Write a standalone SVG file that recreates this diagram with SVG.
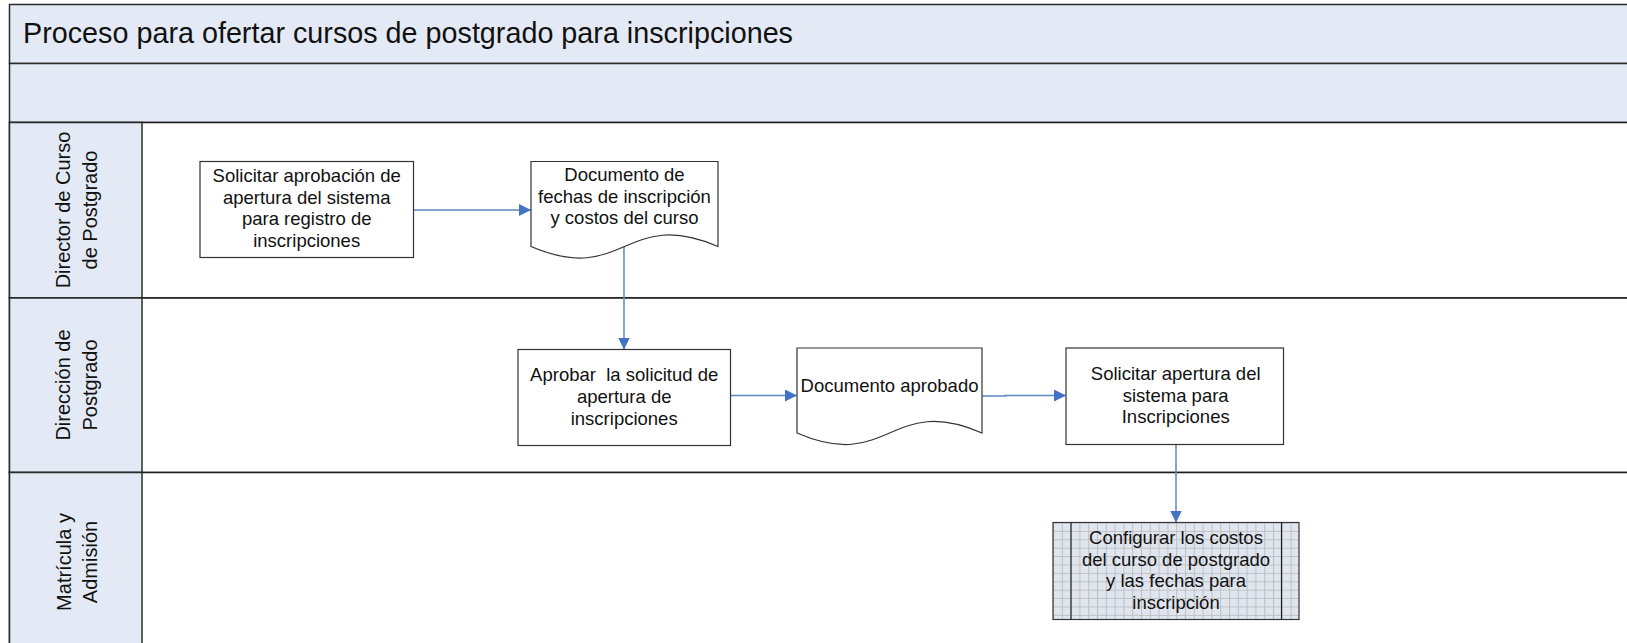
<svg xmlns="http://www.w3.org/2000/svg" width="1627" height="643" viewBox="0 0 1627 643">
<style>
.band{fill:#e4eaf5;stroke:#2b2b2b;stroke-width:1.5}
.lane{fill:#ffffff;stroke:#1a1a1a;stroke-width:1.5}
.box{fill:#ffffff;stroke:#333333;stroke-width:1.2}
.t{font-family:"Liberation Sans",Arial,sans-serif;font-size:18.5px;fill:#111;text-anchor:middle}
.lt{font-family:"Liberation Sans",Arial,sans-serif;font-size:20px;fill:#111;text-anchor:middle}
.title{font-family:"Liberation Sans",Arial,sans-serif;font-size:28.6px;fill:#111}
.c{fill:none;stroke:#5b86c4;stroke-width:1.5}
</style>
<defs>
<marker id="ah" viewBox="0 0 10 10" refX="10" refY="5" markerWidth="12" markerHeight="12" markerUnits="userSpaceOnUse" orient="auto">
<path d="M0,0 L10,5 L0,10 Z" fill="#4472c4"/>
</marker>
<pattern id="grid" patternUnits="userSpaceOnUse" x="1053" y="522.5" width="8.8" height="8.4">
<rect width="8.8" height="8.4" fill="#e0e6f0"/>
<path d="M0.5,0 V8.4 M0,0.5 H8.8" stroke="#c0c0c0" stroke-width="1"/>
</pattern>
</defs>
<rect width="1627" height="643" fill="#ffffff"/>
<g id="pool">
<rect class="band" x="9.5" y="4.5" width="1630" height="59"/>
<rect class="band" x="9.5" y="63.5" width="1630" height="59"/>
<text class="title" x="23" y="42.5" textLength="770" lengthAdjust="spacingAndGlyphs">Proceso para ofertar cursos de postgrado para inscripciones</text>
</g>
<g id="lane-director">
<rect class="lane" x="9.5" y="122.5" width="1630" height="175.5"/>
<rect class="band" x="9.5" y="122.5" width="132.5" height="175.5"/>
<text class="lt" transform="translate(70,210) rotate(-90)">Director de Curso</text>
<text class="lt" transform="translate(97,210) rotate(-90)">de Postgrado</text>
</g>
<g id="lane-direccion">
<rect class="lane" x="9.5" y="298" width="1630" height="174.5"/>
<rect class="band" x="9.5" y="298" width="132.5" height="174.5"/>
<text class="lt" transform="translate(70,385) rotate(-90)">Dirección de</text>
<text class="lt" transform="translate(97,385) rotate(-90)">Postgrado</text>
</g>
<g id="lane-matricula">
<rect class="lane" x="9.5" y="472.5" width="1630" height="190"/>
<rect class="band" x="9.5" y="472.5" width="132.5" height="190"/>
<text class="lt" transform="translate(70.5,562) rotate(-90)">Matrícula y</text>
<text class="lt" transform="translate(96.5,562) rotate(-90)">Admisión</text>
</g>
<g id="connectors">
<path class="c" d="M413.5,210 H531" marker-end="url(#ah)"/>
<path class="c" d="M624,247 V349.5" marker-end="url(#ah)"/>
<path class="c" d="M730.5,395.5 H797" marker-end="url(#ah)"/>
<path class="c" d="M982,396 H1005 V395.5 H1066" marker-end="url(#ah)"/>
<path class="c" d="M1176,444.5 V522.5" marker-end="url(#ah)"/>
</g>
<g id="n1">
<rect class="box" x="200" y="161.5" width="213.5" height="96"/>
<text class="t" x="306.7" y="182">Solicitar aprobación de</text>
<text class="t" x="306.7" y="203.7">apertura del sistema</text>
<text class="t" x="306.7" y="225.4">para registro de</text>
<text class="t" x="306.7" y="247.1">inscripciones</text>
</g>
<g id="n2">
<path class="box" d="M531,161.5 H718 V246.5 C624.5,206.5 624.5,286.5 531,246.5 Z"/>
<text class="t" x="624.5" y="181">Documento de</text>
<text class="t" x="624.5" y="202.7">fechas de inscripción</text>
<text class="t" x="624.5" y="224.4">y costos del curso</text>
</g>
<g id="n3">
<rect class="box" x="518" y="349.5" width="212.5" height="96"/>
<text class="t" x="624.2" y="381.2" xml:space="preserve">Aprobar  la solicitud de</text>
<text class="t" x="624.2" y="402.9">apertura de</text>
<text class="t" x="624.2" y="424.6">inscripciones</text>
</g>
<g id="n4">
<path class="box" d="M797,348 H982 V433 C889.5,393 889.5,473 797,433 Z"/>
<text class="t" x="889.5" y="392">Documento aprobado</text>
</g>
<g id="n5">
<rect class="box" x="1066" y="348" width="217.5" height="96.5"/>
<text class="t" x="1175.7" y="380">Solicitar apertura del</text>
<text class="t" x="1175.7" y="401.7">sistema para</text>
<text class="t" x="1175.7" y="423.4">Inscripciones</text>
</g>
<g id="n6">
<rect x="1053" y="522.5" width="246" height="97" fill="url(#grid)" stroke="#333" stroke-width="1.2"/>
<path d="M1071,522.5 V619.5 M1281.5,522.5 V619.5" stroke="#222" stroke-width="1.2"/>
<text class="t" x="1176" y="544">Configurar los costos</text>
<text class="t" x="1176" y="565.7">del curso de postgrado</text>
<text class="t" x="1176" y="587.4">y las fechas para</text>
<text class="t" x="1176" y="609.1">inscripción</text>
</g>
</svg>
